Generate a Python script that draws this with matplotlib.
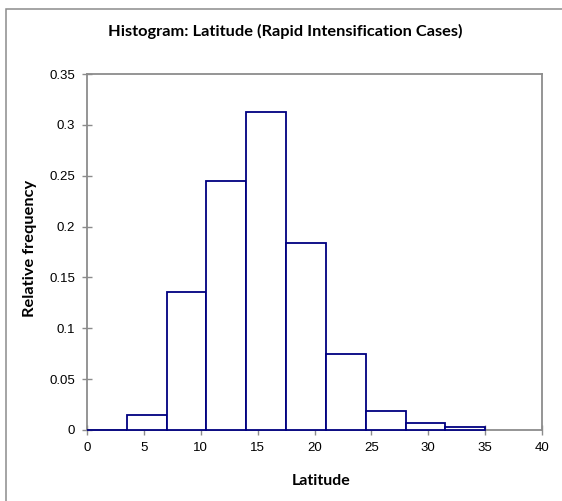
import matplotlib
matplotlib.use("Agg")
import matplotlib.pyplot as plt
from matplotlib.patches import Rectangle
from matplotlib.ticker import FuncFormatter

# Data
bin_edges = [0, 3.5, 7, 10.5, 14, 17.5, 21, 24.5, 28, 31.5, 35]
rel_freq = [0.0, 0.015, 0.136, 0.245, 0.313, 0.184, 0.075, 0.019, 0.007, 0.003]
x_ticks = [0, 5, 10, 15, 20, 25, 30, 35, 40]
y_ticks = [0, 0.05, 0.1, 0.15, 0.2, 0.25, 0.3, 0.35]
title = "Histogram: Latitude (Rapid Intensification Cases)"
xlabel = "Latitude"
ylabel = "Relative frequency"

W, H = 562, 501
fig = plt.figure(figsize=(W / 100, H / 100), dpi=100)
fig.patch.set_facecolor("white")

# outer chart border (partly cut off at right/bottom)
fig.patches.append(Rectangle((5.5 / W, -0.2), 1.2, (H - 8.5) / H + 0.2,
                             transform=fig.transFigure, fill=False,
                             edgecolor="#8c8c8c", linewidth=1.1))

ax = fig.add_axes([87 / W, (H - 430) / H, (542 - 87) / W, (430 - 74) / H])

lefts = bin_edges[:-1]
widths = [b - a for a, b in zip(bin_edges[:-1], bin_edges[1:])]
bars = ax.bar(lefts, rel_freq, width=widths, align="edge", facecolor="white",
              edgecolor="#000080", linewidth=1.3, zorder=3)
for b in bars:
    b.set_clip_on(False)

ax.set_xlim(0, 40)
ax.set_ylim(0, 0.35)
ax.set_xticks(x_ticks)
ax.set_yticks(y_ticks)
ax.yaxis.set_major_formatter(FuncFormatter(lambda v, p: f"{v:g}"))

for s in ax.spines.values():
    s.set_color("#8c8c8c")
    s.set_linewidth(1.3)

tick_font = "Liberation Sans"
ax.tick_params(axis="both", direction="inout", length=7, width=1.0,
               color="#8c8c8c", labelsize=9.5, labelcolor="black")
ax.tick_params(axis="x", pad=5)
ax.tick_params(axis="y", pad=5)
for lab in ax.get_xticklabels() + ax.get_yticklabels():
    lab.set_fontfamily(tick_font)

lab_font = "Lato"
fig.text((105 + 465) / 2 / W, 1 - 31 / H, title, ha="center", va="center",
         fontsize=11.8, fontweight="bold", family=lab_font)
fig.text(321 / W, 1 - 481 / H, xlabel, ha="center", va="center",
         fontsize=11.5, fontweight="bold", family=lab_font)
fig.text(30 / W, 1 - 248 / H, ylabel, ha="center", va="center",
         rotation=90, fontsize=11.8, fontweight="bold", family=lab_font)

fig.savefig("out.png", dpi=100, facecolor="white")
